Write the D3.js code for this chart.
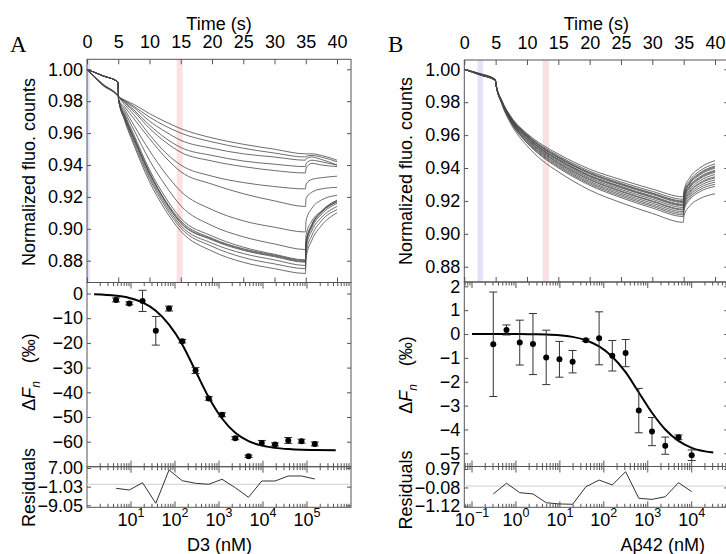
<!DOCTYPE html>
<html>
<head>
<meta charset="utf-8">
<script src="https://cdn.jsdelivr.net/npm/d3@7"></script>
<style>
  body { margin: 0; background: #fff; }
  svg { display: block; font-family: "Liberation Sans", Arial, sans-serif; }
</style>
</head>
<body>
<svg id="chart" width="726" height="554"></svg>
<script>
// ---- data ----
const timeS = [0, 2.5, 4.95, 5.05, 6, 7.5, 10, 12.5, 15, 20, 25, 30, 34.95, 35.05, 36, 37.5, 40];

// panel A: normalized fluorescence traces (one row per capillary)
const tracesA = [
  [1.000, .9910, .9835, .983, .9808, .978, .9722, .9672, .9628, .957, .953, .9499, .947, .947, .947, .946, .943],
  [1.000, .9905, .9835, .983, .9805, .9768, .970, .9645, .960, .9545, .9505, .9475, .945, .9455, .946, .945, .942],
  [1.000, .9905, .9835, .983, .980, .976, .9675, .961, .9555, .9505, .947, .945, .943, .944, .945, .9435, .940],
  [1.000, .9903, .9835, .983, .9795, .9745, .965, .957, .951, .946, .9425, .9405, .939, .941, .943, .942, .940],
  [1.000, .9902, .9835, .983, .979, .9735, .963, .9545, .948, .9425, .939, .9365, .935, .938, .941, .940, .939],
  [1.000, .9900, .9830, .9825, .978, .9715, .959, .948, .940, .933, .929, .9265, .925, .928, .931, .932, .933],
  [1.000, .996, .992, .981, .9765, .969, .9565, .945, .9358, .928, .922, .9175, .914, .919, .923, .925, .926],
  [1.000, .996, .992, .981, .975, .965, .949, .935, .9235, .912, .905, .901, .898, .905, .913, .918, .921],
  [1.000, .996, .992, .981, .9735, .962, .943, .9275, .9145, .902, .895, .8905, .887, .896, .905, .911, .917],
  [1.000, .996, .992, .981, .972, .959, .937, .920, .9066, .8955, .8885, .884, .8805, .892, .903, .911, .918],
  [1.000, .996, .992, .981, .971, .9575, .9355, .918, .905, .894, .8875, .8835, .880, .8915, .9025, .9105, .9175],
  [1.000, .996, .992, .981, .9705, .957, .935, .9175, .904, .8935, .887, .883, .8795, .891, .902, .910, .917],
  [1.000, .996, .992, .981, .970, .9565, .9345, .917, .9035, .893, .8865, .8825, .879, .890, .901, .909, .916],
  [1.000, .996, .992, .981, .9695, .9555, .933, .9155, .902, .891, .8845, .8805, .877, .888, .899, .907, .914],
  [1.000, .996, .992, .981, .969, .954, .9315, .914, .9005, .889, .882, .878, .875, .885, .896, .905, .912],
  [1.000, .996, .992, .981, .968, .9525, .9295, .912, .8985, .886, .879, .875, .872, .882, .893, .902, .910]
];

// panel B traces
const tracesB = [
  [1.000, .9975, .9940, .9915, .981, .971, .961, .954, .9485, .9393, .9329, .9272, .9225, .9265, .9342, .9398, .9445],
  [1.000, .9970, .9935, .9910, .9808, .9705, .9605, .9531, .9475, .9381, .9315, .9258, .921, .925, .9325, .938, .9425],
  [1.000, .9972, .9938, .9912, .9806, .9702, .960, .9525, .9468, .9373, .9306, .9248, .920, .924, .9314, .9368, .9412],
  [1.000, .9968, .9932, .9908, .9805, .9701, .9598, .9522, .9465, .9369, .9302, .9244, .9195, .9235, .9309, .9362, .9406],
  [1.000, .9970, .9936, .9910, .9805, .9699, .9595, .9519, .9461, .9365, .9297, .9239, .919, .923, .9303, .9356, .9399],
  [1.000, .9966, .9934, .9910, .9803, .9696, .959, .9512, .9454, .9356, .9288, .9229, .918, .922, .9292, .9344, .9386],
  [1.000, .9969, .9937, .9912, .9802, .9695, .9588, .9509, .9451, .9352, .9284, .9224, .9175, .9215, .9287, .9338, .938],
  [1.000, .9970, .9935, .9910, .9802, .9693, .9585, .9506, .9447, .9348, .9279, .922, .917, .921, .9281, .9332, .9373],
  [1.000, .9967, .9933, .9908, .980, .969, .958, .950, .944, .934, .927, .921, .916, .920, .927, .932, .936],
  [1.000, .9971, .9936, .9911, .9798, .9687, .9575, .9494, .9433, .9332, .9261, .920, .915, .919, .9259, .9308, .9347],
  [1.000, .9968, .9934, .9909, .9798, .9685, .9572, .9491, .9429, .9328, .9256, .9196, .9145, .9185, .9253, .9302, .934],
  [1.000, .9966, .9932, .9908, .9796, .9682, .9567, .9484, .9422, .9319, .9247, .9186, .9135, .9175, .9242, .929, .9327],
  [1.000, .9970, .9935, .9910, .9795, .9679, .9562, .9478, .9415, .9311, .9238, .9176, .9125, .9165, .9231, .9278, .9314],
  [1.000, .9965, .9931, .9906, .9793, .9676, .9557, .9472, .9408, .9303, .9229, .9167, .9115, .9155, .922, .9266, .9301],
  [1.000, .9967, .9933, .9908, .9792, .9673, .9552, .9466, .9401, .9295, .922, .9157, .9105, .9145, .9209, .9254, .9288],
  [1.000, .9969, .9934, .9909, .9786, .9663, .9535, .9444, .9377, .9266, .9189, .9124, .907, .911, .9171, .9212, .9243]
];

// cold / hot analysis windows (s)
const coldA = [0, 0.45];
const hotA = [14.35, 15.3];
const coldB = [2.1, 3.0];
const hotB = [12.5, 13.5];

// dose response, panel A (D3)
const concA = [4.58, 9.16, 18.3, 36.6, 73.2, 146, 293, 586, 1172, 2344, 4688, 9375, 18750, 37500, 75000, 150000];
const dFnA = [-2.6, -4.0, -3.0, -15.1, -6.1, -19.3, -31.2, -42.5, -49.1, -58.6, -65.9, -60.5, -61.1, -59.5, -59.8, -60.9];
const errA = [0.8, 0.6, 4.3, 5.8, 1.0, 0.7, 1.2, 0.7, 0.8, 0.6, 0.5, 1.0, 0.6, 1.2, 0.8, 0.8];
const residA = [-1.73, -2.47, 0.67, -8.19, 6.14, 1.54, 0.42, -0.01, 2.14, -1.48, -5.6, 1.4, 1.4, 3.56, 3.56, 2.27];
const fitConcA = [1.45, 4.58, 9.16, 18.3, 36.6, 73.2, 146, 293, 586, 1172, 2344, 4688, 9375, 18750, 37500, 75000, 150000, 450000];
const fitA = [-0.3, -0.9, -1.8, -3.6, -7.0, -12.6, -20.6, -31.4, -42.1, -50.6, -56.4, -59.8, -61.6, -62.5, -63.0, -63.3, -63.4, -63.5];

// dose response, panel B (Abeta42)
const concB = [0.305, 0.61, 1.22, 2.44, 4.88, 9.77, 19.5, 39.1, 78.1, 156, 313, 625, 1250, 2500, 5000, 10000];
const dFnB = [-0.43, 0.17, -0.36, -0.42, -0.98, -1.06, -1.16, -0.26, -0.18, -0.91, -0.80, -3.21, -4.09, -4.68, -4.33, -5.08];
const errB = [2.19, 0.21, 0.94, 1.28, 1.14, 0.75, 0.47, 0.05, 1.11, 0.64, 0.57, 0.93, 0.59, 0.36, 0.10, 0.22];
const residB = [-0.45, 0.16, -0.38, -0.45, -0.95, -1.02, -1.04, -0.04, 0.34, 0.06, 0.82, -0.70, -0.76, -0.61, 0.19, -0.32];
const fitConcB = [0.1, 0.305, 0.61, 1.22, 2.44, 4.88, 9.77, 19.5, 39.1, 78.1, 156, 313, 625, 1250, 2500, 5000, 10000, 31000];
const fitB = [0, 0, 0, 0, -0.01, -0.02, -0.05, -0.12, -0.26, -0.52, -0.95, -1.6, -2.45, -3.3, -4.0, -4.48, -4.77, -4.97];

// tick values
const timeTicks = [0, 5, 10, 15, 20, 25, 30, 35, 40];
const normTicks = [0.88, 0.90, 0.92, 0.94, 0.96, 0.98, 1.00];
const dFnTicksA = [0, -10, -20, -30, -40, -50, -60];
const dFnTicksB = [2, 1, 0, -1, -2, -3, -4, -5];
const residTicksA = [7.00, -1.03, -9.05];
const residTicksB = [0.97, -0.08, -1.12];

// ---- layout ----
const panels = [
  { letter: "A", letterX: 10, left: 87, right: 351, t0: 87, t40: 337,
    top: 59.3, split1: 282.5, split2: 466.7, bottom: 507.3,
    normRange: [260.7, 69.3],
    dFnDomain: [-60, 0], dFnRange: [441.7, 293.5], dFnTicks: dFnTicksA,
    resDomain: [-9.05, 7], resRange: [505.3, 468], resTicks: residTicksA,
    logDomain: [1, 1e6], logRange: [87, 351],
    cold: coldA, hot: hotA, traces: tracesA,
    conc: concA, dFn: dFnA, err: errA, resid: residA, fitConc: fitConcA, fit: fitA,
    xLabel: "D3 (nM)", xLabelX: 219.5, yLabX: 29, normLabY: 172, dfnLabY: 372, resLabY: 487.5 },
  { letter: "B", letterX: 388, left: 464.3, right: 728.3, t0: 464.3, t40: 715,
    top: 60, split1: 282, split2: 466.5, bottom: 507.3,
    normRange: [266.7, 69.3],
    dFnDomain: [-5, 2], dFnRange: [453.3, 286.3], dFnTicks: dFnTicksB,
    resDomain: [-1.12, 0.97], resRange: [505.7, 469], resTicks: residTicksB,
    logDomain: [0.1, 1e4], logRange: [472, 691.7],
    cold: coldB, hot: hotB, traces: tracesB,
    conc: concB, dFn: dFnB, err: errB, resid: residB, fitConc: fitConcB, fit: fitB,
    xLabel: "A\u03B242 (nM)", xLabelX: 662.7, yLabX: 406, normLabY: 171, dfnLabY: 375, resLabY: 490 }
];

const svg = d3.select("#chart");
const frameColor = "#555";

function styleAxis(g, size) {
  g.select(".domain").remove();
  g.selectAll(".tick line").attr("stroke", frameColor);
  g.selectAll("text").attr("fill", "#000").style("font-size", size + "px");
  g.attr("font-family", null).attr("font-size", null);
}

function drawPanel(p) {
  const g = svg.append("g");

  const xT = d3.scaleLinear().domain([0, 40]).range([p.t0, p.t40]);
  const yN = d3.scaleLinear().domain([0.88, 1.00]).range(p.normRange);
  const yD = d3.scaleLinear().domain(p.dFnDomain).range(p.dFnRange);
  const yR = d3.scaleLinear().domain(p.resDomain).range(p.resRange);
  const xl = d3.scaleLog().domain(p.logDomain).range(p.logRange);
  const xt = xl.copy().domain([xl.invert(p.left), xl.invert(p.right)]).range([p.left, p.right]);

  // analysis windows
  [[p.cold, "#e3e3fb"], [p.hot, "#fbe1e3"]].forEach(([w, c]) => {
    g.append("rect")
      .attr("x", xT(w[0])).attr("width", xT(w[1]) - xT(w[0]))
      .attr("y", p.top).attr("height", p.split1 - p.top)
      .attr("fill", c);
  });

  // traces
  const traceLine = d3.line()
    .x((d, i) => xT(timeS[i]))
    .y(d => yN(d))
    .curve(d3.curveMonotoneX);
  g.append("g").selectAll("path").data(p.traces).join("path")
    .attr("d", traceLine)
    .attr("fill", "none")
    .attr("stroke", "#474747")
    .attr("stroke-width", 0.8);

  // frames
  [[p.top, p.split1], [p.split1, p.split2], [p.split2, p.bottom]].forEach(([a, b]) => {
    g.append("rect").attr("x", p.left).attr("y", a)
      .attr("width", p.right - p.left).attr("height", b - a)
      .attr("fill", "none").attr("stroke", frameColor).attr("stroke-width", 1);
  });

  // time axis on top
  g.append("g").attr("transform", `translate(0,${p.top})`)
    .call(d3.axisTop(xT).tickValues(timeTicks).tickSize(-5).tickPadding(11))
    .call(a => styleAxis(a, 18));
  g.append("g").attr("transform", `translate(0,${p.split1})`)
    .call(d3.axisBottom(xT).tickValues(timeTicks).tickSize(-5).tickFormat(""))
    .call(a => styleAxis(a, 18));
  g.append("text").attr("x", (p.left + p.right) / 2).attr("y", 29.5)
    .attr("text-anchor", "middle").style("font-size", "18px").text("Time (s)");

  // left / right y axes
  const yAxes = [
    [yN, normTicks, d3.format(".2f")],
    [yD, p.dFnTicks, d3.format("d")],
    [yR, p.resTicks, d3.format(".2f")]
  ];
  yAxes.forEach(([sc, tv, fmt]) => {
    g.append("g").attr("transform", `translate(${p.left},0)`)
      .call(d3.axisLeft(sc).tickValues(tv).tickFormat(fmt).tickSize(-4).tickPadding(4))
      .call(a => styleAxis(a, 18));
    g.append("g").attr("transform", `translate(${p.right},0)`)
      .call(d3.axisRight(sc).tickValues(tv).tickFormat("").tickSize(-4))
      .call(a => styleAxis(a, 18));
  });

  // log concentration ticks on the lower panel edges
  const ticks = xt.ticks().filter(d => xt(d) > p.left + 0.5 && xt(d) < p.right - 0.5);
  const isMajor = d => Math.abs(Math.log10(d) - Math.round(Math.log10(d))) < 1e-6;
  [[p.split1, 1], [p.split2, -1], [p.split2, 1], [p.bottom, -1]].forEach(([y, dir]) => {
    g.append("g").selectAll("line").data(ticks).join("line")
      .attr("x1", d => xt(d)).attr("x2", d => xt(d))
      .attr("y1", y).attr("y2", d => y + dir * (isMajor(d) ? 6 : 3.5))
      .attr("stroke", frameColor).attr("stroke-width", 1);
  });
  const labs = g.append("g").selectAll("text")
    .data(ticks.filter(d => isMajor(d) && xt(d) > p.left + 2 && xt(d) < p.right - 2))
    .join("text")
    .attr("x", d => xt(d)).attr("y", 526)
    .attr("text-anchor", "middle").attr("fill", "#000").style("font-size", "18px");
  labs.append("tspan").text("10");
  labs.append("tspan").attr("dy", -9.5).style("font-size", "12.5px")
    .text(d => { const e = Math.round(Math.log10(d)); return e < 0 ? "\u2212" + (-e) : String(e); });
  g.append("text").attr("x", p.xLabelX).attr("y", 551)
    .attr("text-anchor", "middle").style("font-size", "18px").text(p.xLabel);

  // residual zero line and residuals
  g.append("line").attr("x1", p.left).attr("x2", p.right)
    .attr("y1", yR(0)).attr("y2", yR(0))
    .attr("stroke", "#cfcfcf").attr("stroke-width", 1);
  g.append("path").datum(d3.zip(p.conc, p.resid))
    .attr("d", d3.line().x(d => xl(d[0])).y(d => yR(d[1])))
    .attr("fill", "none").attr("stroke", "#333").attr("stroke-width", 1);

  // fit curve
  g.append("path").datum(d3.zip(p.fitConc, p.fit))
    .attr("d", d3.line().x(d => xl(d[0])).y(d => yD(d[1])).curve(d3.curveMonotoneX))
    .attr("fill", "none").attr("stroke", "#000").attr("stroke-width", 2);

  // error bars and points
  const pts = d3.range(p.conc.length).map(i => ({ c: p.conc[i], v: p.dFn[i], e: p.err[i] }));
  const eb = g.append("g").attr("stroke", "#333").attr("stroke-width", 1);
  eb.selectAll(".stem").data(pts).join("line")
    .attr("x1", d => xl(d.c)).attr("x2", d => xl(d.c))
    .attr("y1", d => yD(d.v - d.e)).attr("y2", d => yD(d.v + d.e));
  [-1, 1].forEach(s => {
    eb.selectAll(null).data(pts).join("line")
      .attr("x1", d => xl(d.c) - 4).attr("x2", d => xl(d.c) + 4)
      .attr("y1", d => yD(d.v + s * d.e)).attr("y2", d => yD(d.v + s * d.e));
  });
  g.append("g").selectAll("circle").data(pts).join("circle")
    .attr("cx", d => xl(d.c)).attr("cy", d => yD(d.v)).attr("r", 3)
    .attr("fill", "#000");

  // axis titles
  const rot = (y, txt) => g.append("text")
    .attr("transform", `translate(${p.yLabX},${y}) rotate(-90)`)
    .attr("dy", "0.35em").attr("text-anchor", "middle")
    .style("font-size", "18px").text(txt);
  rot(p.normLabY, "Normalized fluo. counts");
  rot(p.resLabY, "Residuals");
  const dl = g.append("text")
    .attr("transform", `translate(${p.yLabX},${p.dfnLabY}) rotate(-90)`)
    .attr("dy", "0.35em").attr("text-anchor", "middle").style("font-size", "18px");
  dl.append("tspan").text("\u0394");
  dl.append("tspan").style("font-style", "italic").text("F");
  dl.append("tspan").style("font-style", "italic").style("font-size", "12px").attr("dy", 5).text("n");
  dl.append("tspan").attr("dy", -5).text("\u2002\u2002(\u2030)");

  // panel letter
  g.append("text").attr("x", p.letterX).attr("y", 52)
    .style("font-family", "'Liberation Serif', 'Times New Roman', serif")
    .style("font-size", "23px").text(p.letter);
}

panels.forEach(drawPanel);
</script>
</body>
</html>
